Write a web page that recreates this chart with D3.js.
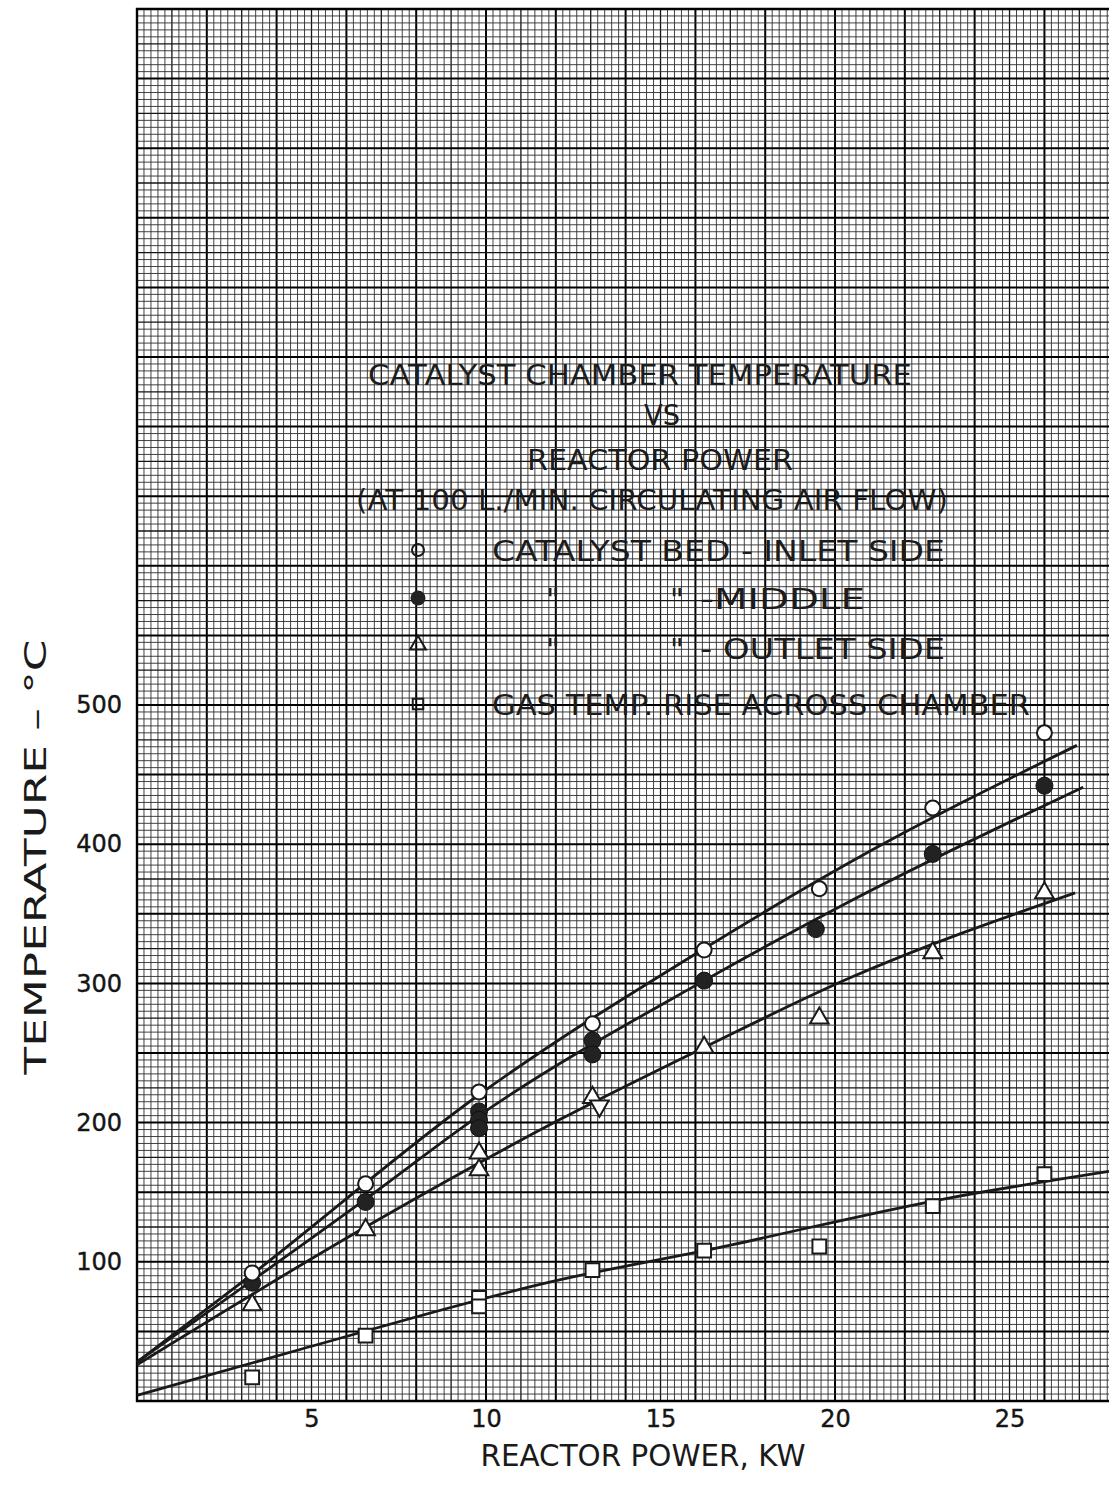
<!DOCTYPE html>
<html>
<head>
<meta charset="utf-8">
<script src="https://cdn.jsdelivr.net/npm/d3@7"></script>
<style>
  html, body { margin: 0; padding: 0; background: #fff; }
  svg { display: block; }
  .tick text { font-family: "DejaVu Sans", sans-serif; fill: #151515; stroke: #151515; stroke-width: 0.4; }
  .letter { font-family: "DejaVu Sans", sans-serif; fill: #1c1c1c; }
</style>
</head>
<body>
<div class="canvas"></div>
<script>
// measured points, kW vs deg C
const inletPts = [[3.3, 92], [6.55, 156], [9.8, 222], [13.05, 271], [16.25, 324], [19.55, 368], [22.8, 426], [26.0, 480]];
const middlePts = [[3.3, 85], [6.55, 143], [9.8, 208], [9.8, 202], [9.8, 196], [13.05, 259], [13.05, 249],
  [16.25, 302], [19.45, 339], [22.8, 393], [26.0, 442]];
const outletPts = [[3.3, 69], [6.55, 123], [9.8, 178], [9.8, 166], [13.05, 218], [16.25, 254], [19.55, 275], [22.8, 322], [26.0, 365]];
const outletInvPts = [[13.25, 212]];
const gasPts = [[3.3, 17], [6.55, 47], [9.8, 74], [9.8, 68], [13.05, 94], [16.25, 108], [19.55, 111], [22.8, 140], [26.0, 163]];

// hand drawn fit curves
const inletFit = [[0, 28], [3.3, 91], [9.8, 220], [16.25, 325], [20.43, 387], [26.93, 471]];
const middleFit = [[0, 28], [6.55, 145], [9.8, 205], [16.25, 302], [20.43, 359], [27.11, 441]];
const outletFit = [[0, 26], [6.55, 125], [12.1, 202], [16.25, 254], [20.43, 304], [26.88, 365]];
const gasFit = [[0, 4], [4.67, 37], [12.1, 87], [16.25, 108], [23.3, 146], [27.85, 165]];

const xTicks = [5, 10, 15, 20, 25];
const yTicks = [100, 200, 300, 400, 500];

const titleLines = ['CATALYST CHAMBER TEMPERATURE', 'VS', 'REACTOR POWER', '(AT 100 L./MIN. CIRCULATING AIR FLOW)'];
const legendLabels = ['CATALYST BED - INLET SIDE', '-MIDDLE', '- OUTLET SIDE', 'GAS TEMP. RISE ACROSS CHAMBER'];

const W = 1109, H = 1486;
const svg = d3.select('.canvas').append('svg').attr('width', W).attr('height', H);

const x = d3.scaleLinear().domain([0, 27.85]).range([137, 1109]);
const y = d3.scaleLinear().domain([0, 1000]).range([1401, 9]);

// graph paper: 0.2 kW x 5 C squares, heavier every 5 and 10
const grid = svg.append('g');
const vSteps = d3.range(0, 140);
const hSteps = d3.range(0, 201);
const weight = i => (i % 10 === 0 ? 2.0 : i % 5 === 0 ? 1.3 : 0.9);
const shade = i => (i % 10 === 0 ? '#000' : i % 5 === 0 ? '#151515' : '#2e2e2e');

grid.selectAll('line.v').data(vSteps).enter().append('line')
  .attr('class', 'v')
  .attr('x1', i => x(i * 0.2)).attr('x2', i => x(i * 0.2))
  .attr('y1', y(1000)).attr('y2', y(0))
  .attr('stroke', shade).attr('stroke-width', weight);

grid.selectAll('line.h').data(hSteps).enter().append('line')
  .attr('class', 'h')
  .attr('y1', j => y(j * 5)).attr('y2', j => y(j * 5))
  .attr('x1', x(0)).attr('x2', W)
  .attr('stroke', shade).attr('stroke-width', weight);

// border of the sheet
grid.append('path')
  .attr('d', `M${W},${y(1000)}H${x(0)}V${y(0)}H${W}`)
  .attr('fill', 'none').attr('stroke', '#000').attr('stroke-width', 2.4);

// axes
const xAxis = d3.axisBottom(x).tickValues(xTicks).tickSize(0).tickPadding(9);
svg.append('g').attr('transform', `translate(0,${y(0)})`).call(xAxis)
  .call(g => g.select('.domain').remove())
  .selectAll('text').attr('font-size', 24);

const yAxis = d3.axisLeft(y).tickValues(yTicks).tickSize(0).tickPadding(15);
svg.append('g').attr('transform', `translate(${x(0)},0)`).call(yAxis)
  .call(g => g.select('.domain').remove())
  .selectAll('text').attr('font-size', 24);

svg.append('text')
  .attr('x', 643).attr('y', 1466)
  .attr('text-anchor', 'middle')
  .attr('font-family', '"DejaVu Sans", sans-serif')
  .attr('font-size', 31).attr('fill', '#1a1a1a')
  .attr('textLength', 325).attr('lengthAdjust', 'spacingAndGlyphs')
  .text('REACTOR POWER, KW');

svg.append('text')
  .attr('transform', 'translate(46,857) rotate(-90)')
  .attr('text-anchor', 'middle')
  .attr('font-family', '"DejaVu Sans", sans-serif')
  .attr('font-size', 31).attr('fill', '#1a1a1a')
  .attr('textLength', 435).attr('lengthAdjust', 'spacingAndGlyphs')
  .text('TEMPERATURE – °C');

// fit curves
const line = d3.line().x(d => x(d[0])).y(d => y(d[1])).curve(d3.curveMonotoneX);
const curves = svg.append('g');
[inletFit, middleFit, outletFit, gasFit].forEach(f => {
  curves.append('path').attr('d', line(f))
    .attr('fill', 'none').attr('stroke', '#1a1a1a').attr('stroke-width', 2.8);
});

// markers
const marks = svg.append('g');
const tri = d3.symbol().type(d3.symbolTriangle).size(150);
const sq = d3.symbol().type(d3.symbolSquare).size(190);

const drawOpenCircle = (sel, pts) => sel.selectAll(null).data(pts).enter().append('circle')
  .attr('cx', d => x(d[0])).attr('cy', d => y(d[1])).attr('r', 7.5)
  .attr('fill', '#fff').attr('stroke', '#1a1a1a').attr('stroke-width', 2);
const drawFilled = (sel, pts) => sel.selectAll(null).data(pts).enter().append('circle')
  .attr('cx', d => x(d[0])).attr('cy', d => y(d[1])).attr('r', 8.5)
  .attr('fill', '#222').attr('stroke', '#111').attr('stroke-width', 1);
const drawTri = (sel, pts, rot) => sel.selectAll(null).data(pts).enter().append('path')
  .attr('d', tri)
  .attr('transform', d => `translate(${x(d[0])},${y(d[1])}) rotate(${rot})`)
  .attr('fill', '#fff').attr('stroke', '#1a1a1a').attr('stroke-width', 2);
const drawSq = (sel, pts) => sel.selectAll(null).data(pts).enter().append('path')
  .attr('d', sq)
  .attr('transform', d => `translate(${x(d[0])},${y(d[1])})`)
  .attr('fill', '#fff').attr('stroke', '#1a1a1a').attr('stroke-width', 2);

drawSq(marks.append('g'), gasPts);
drawTri(marks.append('g'), outletPts, 0);
drawTri(marks.append('g'), outletInvPts, 180);
drawFilled(marks.append('g'), middlePts);
drawOpenCircle(marks.append('g'), inletPts);

// title block
const titleG = svg.append('g');
const titleBase = [385, 425, 470, 510];
const titleLen = [544, 36, 266, 592];
const titleX = [640, 662, 660, 652];
titleLines.forEach((t, i) => {
  titleG.append('text').attr('class', 'letter')
    .attr('x', titleX[i]).attr('y', titleBase[i])
    .attr('text-anchor', 'middle')
    .attr('font-size', 29)
    .attr('textLength', titleLen[i]).attr('lengthAdjust', 'spacingAndGlyphs')
    .text(t);
});

// legend block
const legendG = svg.append('g');
const rowY = [550, 598, 648, 704];
const labelX = [492, 700, 700, 492];
const labelLen = [453, 165, 245, 538];
legendLabels.forEach((t, i) => {
  legendG.append('text').attr('class', 'letter')
    .attr('x', labelX[i]).attr('y', rowY[i] + 11)
    .attr('font-size', 29)
    .attr('textLength', labelLen[i]).attr('lengthAdjust', 'spacingAndGlyphs')
    .text(t);
});
// ditto marks
[1, 2].forEach(i => {
  [553, 677].forEach(dx => {
    legendG.append('text').attr('class', 'letter')
      .attr('x', dx).attr('y', rowY[i] + 12)
      .attr('text-anchor', 'middle').attr('font-size', 30)
      .text('"');
  });
});
legendG.append('circle').attr('cx', 418).attr('cy', rowY[0]).attr('r', 6)
  .attr('fill', 'none').attr('stroke', '#1a1a1a').attr('stroke-width', 2);
legendG.append('circle').attr('cx', 418).attr('cy', rowY[1]).attr('r', 7.5)
  .attr('fill', '#222');
legendG.append('path').attr('d', d3.symbol().type(d3.symbolTriangle).size(110))
  .attr('transform', `translate(418,${rowY[2] - 3})`)
  .attr('fill', 'none').attr('stroke', '#1a1a1a').attr('stroke-width', 2);
legendG.append('path').attr('d', d3.symbol().type(d3.symbolSquare).size(110))
  .attr('transform', `translate(418,${rowY[3]})`)
  .attr('fill', 'none').attr('stroke', '#1a1a1a').attr('stroke-width', 2);
</script>
</body>
</html>
